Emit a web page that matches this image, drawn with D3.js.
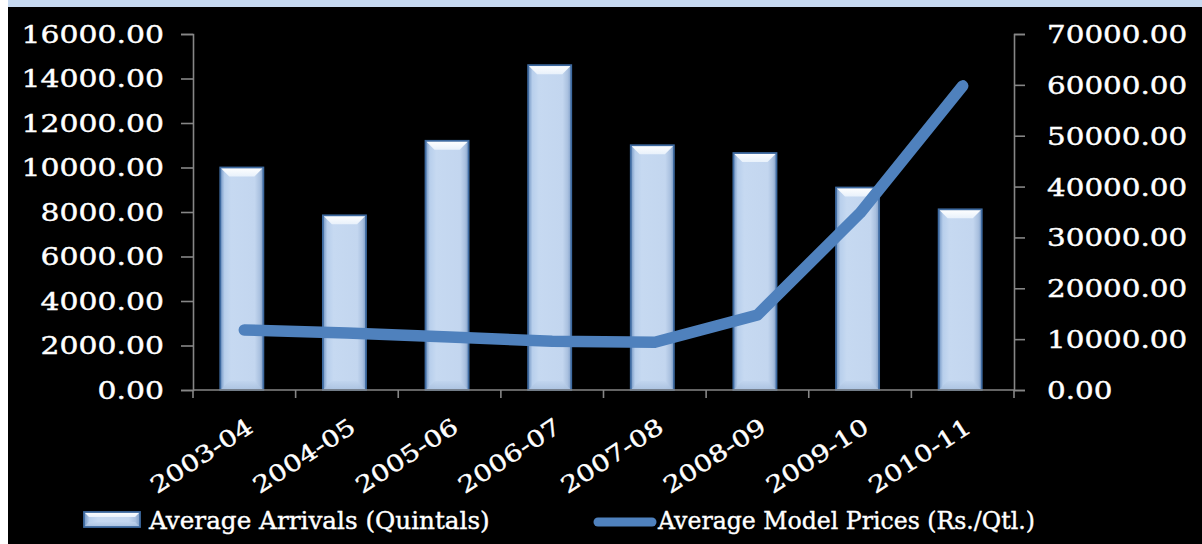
<!DOCTYPE html>
<html>
<head>
<meta charset="utf-8">
<script src="https://cdn.jsdelivr.net/npm/d3@7"></script>
<style>
  html, body { margin: 0; padding: 0; background: #fff; }
  svg { display: block; }
  text { font-family: "DejaVu Serif", serif; fill: #ffffff; stroke: #ffffff; stroke-width: 0.4px; }
</style>
</head>
<body>
<svg id="chart" width="1202" height="544"></svg>
<script>
// Seasons and yearly averages
const categories = ["2003-04", "2004-05", "2005-06", "2006-07", "2007-08", "2008-09", "2009-10", "2010-11"];
const arrivals = [10000, 7850, 11200, 14600, 11000, 10650, 9100, 8120];      // quintals
const prices   = [11800, 11200, 10400, 9600, 9400, 14750, 34800, 59800];     // Rs./Qtl.
const leftTicks  = [0, 2000, 4000, 6000, 8000, 10000, 12000, 14000, 16000];
const rightTicks = [0, 10000, 20000, 30000, 40000, 50000, 60000, 70000];
const legendLabels = ["Average Arrivals (Quintals)", "Average Model Prices (Rs./Qtl.)"];

const W = 1202, H = 544;
const plot = { left: 193, right: 1014, top: 34, bottom: 390 };
const axisColor = "#868686";
const lineColor = "#4f81bd";

const svg = d3.select("#chart");

// Backdrop: white margin, pale-blue band on top, black panel
svg.append("rect").attr("width", W).attr("height", H).attr("fill", "#ffffff");
svg.append("rect").attr("x", 8).attr("y", 0).attr("width", W - 8).attr("height", H).attr("fill", "#000000");
svg.append("rect").attr("x", 8).attr("y", 0).attr("width", W - 8).attr("height", 7).attr("fill", "#c6d9f1");

const x = d3.scaleBand().domain(categories).range([plot.left, plot.right]).padding(0);
const yL = d3.scaleLinear().domain([0, 16000]).range([plot.bottom, plot.top]);
const yR = d3.scaleLinear().domain([0, 70000]).range([plot.bottom, plot.top]);

// Gradients for the bevelled bars
const defs = svg.append("defs");
const g1 = defs.append("linearGradient").attr("id", "barBody").attr("x1", "0").attr("x2", "1").attr("y1", "0").attr("y2", "0");
[[0, "#6f93c2"], [0.1, "#b8cfec"], [0.25, "#c6d9f1"], [0.8, "#c3d6ef"], [0.92, "#a9c0df"], [1, "#7d9cc6"]]
  .forEach(([o, c]) => g1.append("stop").attr("offset", o).attr("stop-color", c));
const g2 = defs.append("linearGradient").attr("id", "barTop").attr("x1", "0").attr("x2", "0").attr("y1", "0").attr("y2", "1");
[[0, "#ffffff"], [1, "#e8f1fb"]].forEach(([o, c]) => g2.append("stop").attr("offset", o).attr("stop-color", c));
const g3 = defs.append("linearGradient").attr("id", "barBottom").attr("x1", "0").attr("x2", "0").attr("y1", "0").attr("y2", "1");
[[0, "#c0d4ee"], [1, "#a6bedd"]].forEach(([o, c]) => g3.append("stop").attr("offset", o).attr("stop-color", c));

function bevelBar(g, x0, y0, w, h) {
  const b = Math.min(9, h / 3, w / 3);
  g.append("rect").attr("x", x0).attr("y", y0).attr("width", w).attr("height", h)
    .attr("fill", "url(#barBody)");
  g.append("path").attr("fill", "url(#barTop)")
    .attr("d", `M${x0},${y0}H${x0 + w}L${x0 + w - b},${y0 + b}H${x0 + b}Z`);
  g.append("path").attr("fill", "url(#barBottom)").attr("opacity", 0.8)
    .attr("d", `M${x0},${y0 + h}H${x0 + w}L${x0 + w - b},${y0 + h - b}H${x0 + b}Z`);
  g.append("rect").attr("x", x0).attr("y", y0).attr("width", w).attr("height", h)
    .attr("fill", "none").attr("stroke", "#3e6aa0").attr("stroke-width", 1.8);
}

// Bars (arrivals, left axis)
const barW = x.bandwidth() * 0.42;
const bars = svg.append("g");
categories.forEach((c, i) => {
  const cx = x(c) + x.bandwidth() / 2 - 2.5;
  bevelBar(bars, cx - barW / 2, yL(arrivals[i]), barW, plot.bottom - yL(arrivals[i]));
});

// Left axis
const leftAxis = d3.axisLeft(yL).tickValues(leftTicks).tickFormat(d3.format(".2f")).tickSize(12).tickPadding(0);
const la = svg.append("g").attr("transform", `translate(${plot.left},0)`).call(leftAxis);
// Right axis
const rightAxis = d3.axisRight(yR).tickValues(rightTicks).tickFormat(d3.format(".2f")).tickSize(11).tickPadding(0);
const ra = svg.append("g").attr("transform", `translate(${plot.right},0)`).call(rightAxis);
// Bottom axis with ticks on category boundaries
const bottomAxis = d3.axisBottom(x).tickSize(0).tickFormat(d => d);
const ba = svg.append("g").attr("transform", `translate(0,${plot.bottom})`).call(bottomAxis);

[la, ra, ba].forEach(a => {
  a.select(".domain").attr("stroke", axisColor).attr("stroke-width", 1.6);
  a.selectAll(".tick line").attr("stroke", axisColor).attr("stroke-width", 1.6);
});
ba.select(".domain").attr("d", `M${plot.left},0H${plot.right}`);
ba.append("g").selectAll("line")
  .data(categories.map(c => x(c)).concat([plot.right]))
  .join("line")
  .attr("x1", d => d).attr("x2", d => d).attr("y1", 0).attr("y2", 8)
  .attr("stroke", axisColor).attr("stroke-width", 1.6);

la.selectAll(".tick text")
  .attr("x", null).attr("dy", null)
  .attr("font-size", 24).attr("fill", "#fff")
  .attr("text-anchor", "end").attr("dominant-baseline", "central")
  .attr("transform", `translate(-29,0) scale(1.245,1)`);
ra.selectAll(".tick text")
  .attr("x", null).attr("dy", null)
  .attr("font-size", 24).attr("fill", "#fff")
  .attr("text-anchor", "start").attr("dominant-baseline", "central")
  .attr("transform", `translate(33,0) scale(1.225,1)`);
// Category labels slanted upward to the right
ba.selectAll(".tick text")
  .attr("y", null).attr("dy", null)
  .attr("font-size", 23).attr("fill", "#fff")
  .attr("text-anchor", "end").attr("dominant-baseline", "central")
  .attr("transform", `translate(6,34) rotate(-33) scale(1.22,1)`);
[la, ra, ba].forEach(a => a.attr("font-family", null).attr("font-size", null));

// Price line (right axis)
const line = d3.line()
  .x((d, i) => x(categories[i]) + x.bandwidth() / 2)
  .y(d => yR(d));
svg.append("path").datum(prices)
  .attr("d", line)
  .attr("fill", "none").attr("stroke", lineColor).attr("stroke-width", 11.5)
  .attr("stroke-linecap", "round").attr("stroke-linejoin", "round");

// Legend: text stretched to the widths of the legend slots
function fitText(sel, width) {
  const len = sel.node().getComputedTextLength();
  const [tx, ty] = [sel.attr("data-x"), sel.attr("data-y")];
  sel.attr("transform", `translate(${tx},${ty}) scale(${width / len},1)`);
}
const leg = svg.append("g");
bevelBar(leg, 84, 512, 56, 15);
leg.append("text").text(legendLabels[0])
  .attr("font-size", 24).attr("dominant-baseline", "central")
  .attr("data-x", 149).attr("data-y", 521)
  .call(fitText, 341);
leg.append("line").attr("x1", 598).attr("x2", 652).attr("y1", 522).attr("y2", 522)
  .attr("stroke", lineColor).attr("stroke-width", 9).attr("stroke-linecap", "round");
leg.append("text").text(legendLabels[1])
  .attr("font-size", 24).attr("dominant-baseline", "central")
  .attr("data-x", 658).attr("data-y", 521)
  .call(fitText, 377);
</script>
</body>
</html>
